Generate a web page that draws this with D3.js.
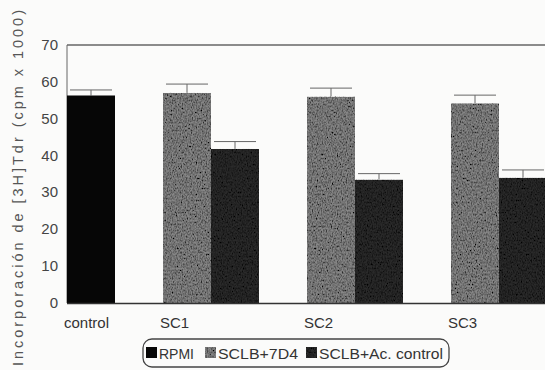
<!DOCTYPE html>
<html>
<head>
<meta charset="utf-8">
<script src="https://cdn.jsdelivr.net/npm/d3@7"></script>
<style>
body { margin: 0; background: #fbfbfa; }
svg { display: block; font-family: 'Liberation Sans', Arial, sans-serif; }
</style>
</head>
<body>
<div id="chart"></div>
<script>
var categories = ['control', 'SC1', 'SC2', 'SC3'];
var seriesNames = ['RPMI', 'SCLB+7D4', 'SCLB+Ac. control'];
// valores por categoria (null = sin barra)
var rpmi = [56.3, null, null, null];
var sclb7d4 = [null, 57.0, 56.0, 54.2];
var sclbAc = [null, 41.8, 33.5, 34.0];
var rpmiErr = [1.5, null, null, null];
var sclb7d4Err = [null, 2.4, 2.3, 2.2];
var sclbAcErr = [null, 2.0, 1.6, 2.1];
var yTicks = [0, 10, 20, 30, 40, 50, 60, 70];

var W = 545, H = 370;
var margin = { left: 67, top: 45, bottom: 67 };
// primera ranura de cada categoria
var slotStart = [0, 2, 5, 8];

var svg = d3.select('#chart').append('svg')
	.attr('width', W)
	.attr('height', H);

var defs = svg.append('defs');
var f = defs.append('filter').attr('id', 'grain')
	.attr('x', 0).attr('y', 0).attr('width', 1).attr('height', 1);
f.append('feTurbulence').attr('type', 'fractalNoise')
	.attr('baseFrequency', '0.8 0.5').attr('numOctaves', 2).attr('seed', 4).attr('result', 'noise');
f.append('feColorMatrix').attr('in', 'noise').attr('type', 'matrix')
	.attr('values', '1.1 1.1 1.1 0 -0.95  1.1 1.1 1.1 0 -0.95  1.1 1.1 1.1 0 -0.95  0 0 0 0 1')
	.attr('result', 'gnoise');
f.append('feBlend').attr('in', 'SourceGraphic').attr('in2', 'gnoise').attr('mode', 'multiply').attr('result', 'b');
f.append('feComposite').attr('in', 'b').attr('in2', 'SourceGraphic').attr('operator', 'in');

var x = d3.scaleLinear().domain([0, 10]).range([margin.left, margin.left + 480]);
var y = d3.scaleLinear().domain([0, 70]).range([H - margin.bottom, margin.top]);
var slotW = x(1) - x(0);

var series = [
	{ name: seriesNames[0], values: rpmi, err: rpmiErr, fill: '#060606', grain: false },
	{ name: seriesNames[1], values: sclb7d4, err: sclb7d4Err, fill: '#868686', grain: true },
	{ name: seriesNames[2], values: sclbAc, err: sclbAcErr, fill: '#2a2a2a', grain: true }
];

// construir barras
var bars = [];
categories.forEach(function(c, i) {
	let k = 0;
	series.forEach(function(s) {
		if (s.values[i] != null) {
			bars.push({ slot: slotStart[i] + k, v: s.values[i], e: s.err[i], s: s });
			k++;
		}
	});
});

// marco
svg.append('line')
	.attr('x1', x(0)).attr('x2', W)
	.attr('y1', y(70)).attr('y2', y(70))
	.attr('stroke', '#666').attr('stroke-width', 1.3);
svg.append('line')
	.attr('x1', x(0)).attr('x2', x(0))
	.attr('y1', y(70)).attr('y2', y(0))
	.attr('stroke', '#666').attr('stroke-width', 1);

// barras de error
var eb = svg.append('g').attr('stroke', '#666').attr('stroke-width', 1);
bars.forEach(function(b) {
	let cx = x(b.slot) + slotW / 2;
	eb.append('line').attr('x1', cx).attr('x2', cx).attr('y1', y(b.v)).attr('y2', y(b.v + b.e));
	eb.append('line').attr('x1', x(b.slot) + 3).attr('x2', x(b.slot + 1) - 3)
		.attr('y1', y(b.v + b.e)).attr('y2', y(b.v + b.e));
});

svg.append('g').selectAll('rect')
	.data(bars)
	.join('rect')
	.attr('x', d => x(d.slot))
	.attr('y', d => y(d.v))
	.attr('width', slotW)
	.attr('height', d => y(0) - y(d.v))
	.attr('fill', d => d.s.fill)
	.attr('filter', d => d.s.grain ? 'url(#grain)' : null);

// eje x
svg.append('line')
	.attr('x1', x(0)).attr('x2', W)
	.attr('y1', y(0) + 0.5).attr('y2', y(0) + 0.5)
	.attr('stroke', '#333').attr('stroke-width', 1.5);

svg.append('g').selectAll('text')
	.data(categories)
	.join('text')
	.attr('x', (d, i) => x(slotStart[i]) - 3)
	.attr('y', y(0) + 25)
	.attr('fill', '#333')
	.style('font-size', '15px')
	.text(d => d);

// eje y
svg.append('g').selectAll('text')
	.data(yTicks)
	.join('text')
	.attr('x', 58)
	.attr('y', d => y(d) + 5)
	.attr('text-anchor', 'end')
	.attr('fill', '#444')
	.style('font-size', '15px')
	.text(d => d);

svg.append('text')
	.attr('transform', 'translate(23,' + 188 + ') rotate(-90)')
	.attr('text-anchor', 'middle')
	.attr('fill', '#555')
	.attr('textLength', 356)
	.attr('lengthAdjust', 'spacing')
	.style('font-size', '14.5px')
	.text('Incorporación de [3H]Tdr (cpm x 1000)');

// leyenda
var lg = svg.append('g');
lg.append('rect')
	.attr('x', 143).attr('y', 339).attr('width', 306).attr('height', 28)
	.attr('rx', 9)
	.attr('fill', 'none').attr('stroke', '#444').attr('stroke-width', 1.3);
var legX = [146, 205, 306];
series.forEach(function(s, i) {
	lg.append('rect')
		.attr('x', legX[i]).attr('y', 347).attr('width', 11).attr('height', 11)
		.attr('fill', s.fill)
		.attr('filter', s.grain ? 'url(#grain)' : null);
	lg.append('text')
		.attr('x', legX[i] + 13).attr('y', 359)
		.attr('fill', '#333')
		.attr('textLength', [35, 80, 124][i])
		.attr('lengthAdjust', 'spacingAndGlyphs')
		.style('font-size', '15px')
		.text(s.name);
});
</script>
</body>
</html>
